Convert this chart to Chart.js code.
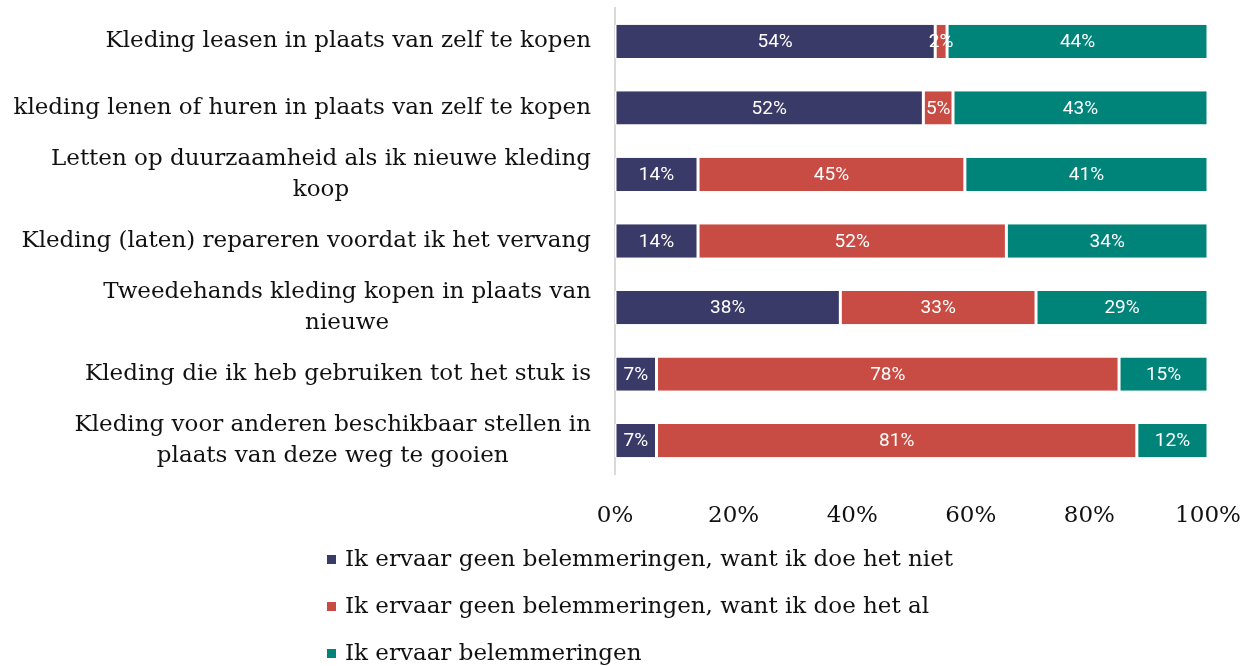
<!DOCTYPE html>
<html>
<head>
<meta charset="utf-8">
<script src="https://cdn.jsdelivr.net/npm/chart.js@4"></script>
<style>
    body { margin: 0; background: #fff; }
    #wrap { position: relative; width: 1256px; height: 666px; }
    #legend { position: absolute; left: 327px; top: 539px; font-family: "DejaVu Serif", serif; font-size: 23px; color: #111; }
    #legend div { height: 47px; line-height: 38px; white-space: nowrap; }
    #legend span.box { display: inline-block; width: 9px; height: 9px; margin-right: 9px; vertical-align: 2px; }
</style>
</head>
<body>
<div id="wrap">
    <canvas id="chart" width="1256" height="666"></canvas>
    <div id="legend"></div>
</div>
<script>
// Chart data
const categories = [
    ["Kleding leasen in plaats van zelf te kopen"],
    ["kleding lenen of huren in plaats van zelf te kopen"],
    ["Letten op duurzaamheid als ik nieuwe kleding", "koop"],
    ["Kleding (laten) repareren voordat ik het vervang"],
    ["Tweedehands kleding kopen in plaats van", "nieuwe"],
    ["Kleding die ik heb gebruiken tot het stuk is"],
    ["Kleding voor anderen beschikbaar stellen in", "plaats van deze weg te gooien"],
];
const seriesNames = [
    "Ik ervaar geen belemmeringen, want ik doe het niet",
    "Ik ervaar geen belemmeringen, want ik doe het al",
    "Ik ervaar belemmeringen",
];
const doetNiet = [54, 52, 14, 14, 38, 7, 7];
const doetAl = [2, 5, 45, 52, 33, 78, 81];
const belemmeringen = [44, 43, 41, 34, 29, 15, 12];
const tickLabels = ["0%", "20%", "40%", "60%", "80%", "100%"];
const colors = ["#393a68", "#c94c44", "#00847a"];

const serif = "'DejaVu Serif', serif";

// Draw the value labels in the middle of each segment
const barLabels = {
    id: "barLabels",
    afterDatasetsDraw(chart) {
        const ctx = chart.ctx;
        ctx.save();
        ctx.fillStyle = "#fff";
        ctx.font = "19px Roboto";
        ctx.textAlign = "center";
        ctx.textBaseline = "middle";
        chart.data.datasets.forEach((ds, i) => {
            chart.getDatasetMeta(i).data.forEach((bar, j) => {
                const c = bar.getCenterPoint();
                ctx.fillText(ds.data[j] + "%", c.x, c.y + 1);
            });
        });
        ctx.restore();
    },
};

// Category labels: block right aligned, lines centred inside the block
const categoryLabels = {
    id: "categoryLabels",
    afterDraw(chart) {
        const ctx = chart.ctx;
        const scale = chart.scales.y;
        const right = scale.right - 24;
        const lineHeight = 31;
        ctx.save();
        ctx.fillStyle = "#111";
        ctx.font = "23px " + serif;
        ctx.textBaseline = "middle";
        ctx.textAlign = "center";
        categories.forEach((lines, i) => {
            const y = scale.getPixelForTick(i);
            const widest = Math.max(...lines.map((l) => ctx.measureText(l).width));
            const cx = right - widest / 2;
            const y0 = y - ((lines.length - 1) * lineHeight) / 2;
            lines.forEach((l, k) => ctx.fillText(l, cx, y0 + k * lineHeight));
        });
        ctx.restore();
    },
};

new Chart(document.getElementById("chart"), {
    type: "bar",
    data: {
        labels: categories,
        datasets: [doetNiet, doetAl, belemmeringen].map((d, i) => ({
            label: seriesNames[i],
            data: d,
            backgroundColor: colors[i],
            borderColor: "#fff",
            borderWidth: { left: 1.5, right: 1.5, top: 0, bottom: 0 },
            borderSkipped: false,
            barPercentage: 0.5,
            categoryPercentage: 1,
        })),
    },
    options: {
        indexAxis: "y",
        responsive: false,
        animation: false,
        layout: { padding: { left: 0, right: 48, top: 8, bottom: 140 } },
        plugins: { legend: { display: false }, tooltip: { enabled: false } },
        scales: {
            x: {
                stacked: true,
                min: 0,
                max: 100,
                ticks: {
                    stepSize: 20,
                    color: "#111",
                    font: { family: serif, size: 23 },
                    padding: 20,
                    callback: (v, i) => tickLabels[i],
                },
                grid: { display: false },
                border: { display: false },
                afterFit: (s) => {
                    s.height = 52;
                    s.paddingLeft = 0;
                    s.paddingRight = 0;
                },
            },
            y: {
                stacked: true,
                ticks: { color: "transparent", font: { size: 1 } },
                grid: { display: false },
                border: { color: "#d9d9d9", width: 2 },
                afterFit: (s) => { s.width = 615; },
            },
        },
    },
    plugins: [barLabels, categoryLabels],
});

// Legend below the chart, one series per line
const legend = document.getElementById("legend");
seriesNames.forEach((name, i) => {
    const row = document.createElement("div");
    row.innerHTML = `<span class="box" style="background:${colors[i]}"></span>${name}`;
    legend.appendChild(row);
});
</script>
</body>
</html>
